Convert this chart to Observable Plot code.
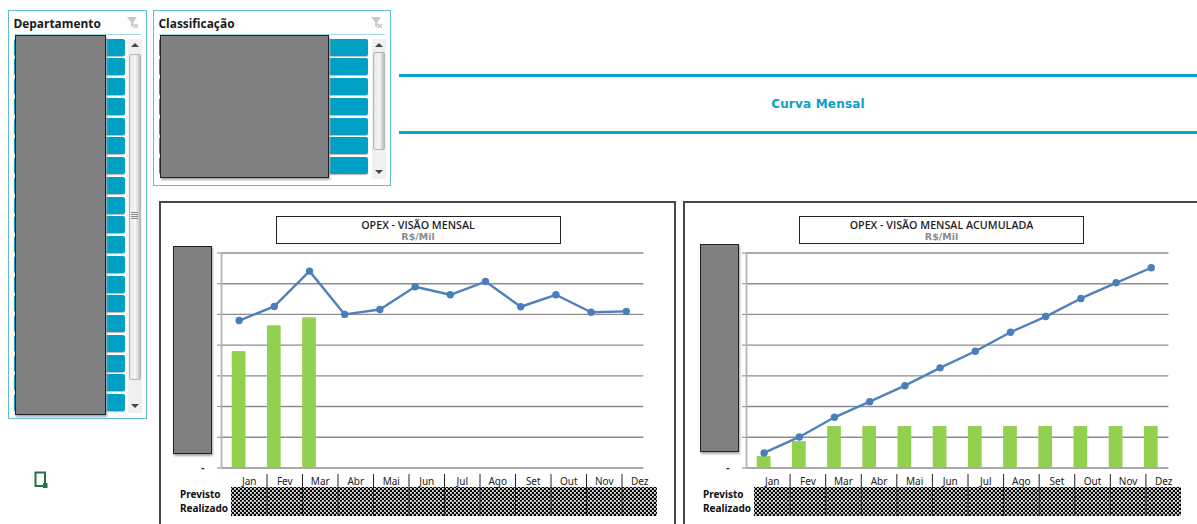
<!DOCTYPE html>
<html lang="pt-BR">
<head>
<meta charset="utf-8">
<script src="https://cdn.jsdelivr.net/npm/d3@7"></script>
<script src="https://cdn.jsdelivr.net/npm/@observablehq/plot@0.6"></script>
<style>
html,body{margin:0;padding:0;background:#fff}
#page{position:relative;width:1197px;height:524px;overflow:hidden;font-family:"DejaVu Sans",sans-serif}
#page div{position:absolute;box-sizing:border-box}
#page svg{position:absolute;display:block;background:transparent}
.slicer{background:#fff;border:1px solid #5fbcd3}
.slicerTitle{font:bold 11.9px "Open Sans","Noto Sans",sans-serif;color:#1a1a1a;white-space:nowrap;line-height:16px}
.rule{background:#a6d9e7;height:1px}
.btn{background:#009fc4;border-radius:2px;box-shadow:0 1px 1px #bbb}
.mask{background:#808080;border:1px solid #222;box-shadow:1px 2px 2px #aaa}
.track{background:#f0f0f0}
.thumb{background:linear-gradient(90deg,#e6e6e6,#f6f6f6 55%,#bdbdbd);border:1px solid #b5b5b5;border-radius:2px}
.up,.down{width:0;height:0;border-left:4px solid transparent;border-right:4px solid transparent}
.up{border-bottom:4px solid #444}.down{border-top:4px solid #444}
.bar{background:#06a5c9;height:3px}
.panel{background:#fff;border:2px solid #484848}
.tbox{background:#fff;border:1px solid #222;text-align:center}
.t1{left:0;right:0;top:1.5px;font:600 10.7px "Open Sans",sans-serif;line-height:15px;color:#1f1f1f;white-space:nowrap}
.t2{left:0;right:0;top:13.5px;font:bold 9.5px "DejaVu Sans",sans-serif;line-height:12px;color:#8a8a8a}
</style>
</head>
<body>
<div id="page"></div>
<script>
const months = ["Jan","Fev","Mar","Abr","Mai","Jun","Jul","Ago","Set","Out","Nov","Dez"];
const tableRows = ["Previsto","Realizado"];
const gridLevels = [0,1,2,3,4,5,6,7];

// Visão mensal
const monthlyPrevisto = [4.80,5.26,6.41,5.00,5.16,5.90,5.64,6.07,5.25,5.64,5.07,5.10];
const monthlyRealizadoMonths = ["Jan","Fev","Mar"];
const monthlyRealizado = [3.79,4.63,4.89];

// Visão mensal acumulada
const cumulativePrevisto = [0.49,1.01,1.65,2.16,2.68,3.26,3.80,4.42,4.93,5.52,6.03,6.52];
const cumulativeRealizado = [0.37,0.86,1.35,1.35,1.35,1.35,1.35,1.35,1.35,1.35,1.35,1.35];

const slicerDepartamentoItems = 19;
const slicerClassificacaoItems = 7;

const page = document.getElementById("page");
function box(cls,l,t,w,h,parent){
  const d=document.createElement("div");d.className=cls;
  d.style.left=l+"px";d.style.top=t+"px";
  if(w!=null)d.style.width=w+"px";
  if(h!=null)d.style.height=h+"px";
  (parent||page).appendChild(d);return d;
}
function funnel(l,t){
  const s=d3.create("svg").attr("width",14).attr("height",14).attr("viewBox","0 0 14 14")
    .style("left",l+"px").style("top",t+"px");
  s.append("path").attr("d","M1 1H11L7.5 6V12L5 10V6Z").attr("fill","#c9c9c9");
  s.append("path").attr("d","M8 8L12 12M12 8L8 12").attr("stroke","#d8b8b8").attr("stroke-width",1.2);
  page.appendChild(s.node());
}
function slicer(opt){
  box("slicer",opt.x,opt.y,opt.w,opt.h);
  const t=box("slicerTitle",opt.x+5.5,15);t.textContent=opt.title;
  funnel(opt.x+opt.w-21,15.5);
  box("rule",opt.x+6,34,opt.w-12,1);
  for(let i=0;i<opt.n;i++) box("btn",opt.x+6,38.7+i*19.75,opt.btnW,17);
  const sx=opt.x+opt.w-19;
  box("track",sx,38.5,14,opt.trackH);
  box("up",sx+3,43);
  box("thumb",sx+1,opt.thumbT,12,opt.thumbH);
  box("down",sx+3,opt.trackH+38.5-9);
  box("mask",opt.x+6.5,35,opt.maskW,opt.maskH);
}
slicer({x:8,y:10,w:139,h:409,title:"Departamento",n:slicerDepartamentoItems,btnW:111,trackH:374,thumbT:54,thumbH:326,maskW:91.5,maskH:380});
const grip=box("",130.5,212,7,8);grip.style.background="repeating-linear-gradient(#888 0 1px,transparent 1px 2px)";
slicer({x:153,y:10,w:238,h:176,title:"Classificação",n:slicerClassificacaoItems,btnW:209,trackH:140,thumbT:52,thumbH:98,maskW:169.5,maskH:143});

box("bar",399,74);box("bar",399,130.5);
page.querySelectorAll(".bar").forEach(b=>b.style.right="0");
const head=box("",700,95.5);head.style.cssText+=";width:236px;text-align:center;font:bold 12px 'DejaVu Sans',sans-serif;color:#0b9fc4;line-height:17px;letter-spacing:.2px";
head.textContent="Curva Mensal";

// Excel icon
const icon=d3.create("svg").attr("width",16).attr("height",20).style("left","33px").style("top","470px");
icon.append("path").attr("d","M2.5 2.5H12V16H2.5Z").attr("fill","none").attr("stroke","#217346").attr("stroke-width",2);
icon.append("path").attr("d","M10 13H14.5V18H10Z").attr("fill","#217346");
page.appendChild(icon.node());

function chartPlot({axisLeft,line,bars,barMonths,panelX,panelW,title,titleX,titleW,maskX,maskT,tableLeft,tableW,id}){
  box("panel",panelX,201,panelW,340);
  const tb=box("tbox",titleX,215.5,titleW,28.5);
  const a=box("t1",0,0,null,null,tb);a.style.left="0";a.style.right="0";a.style.top="1.5px";a.textContent=title;
  const b=box("t2",0,0,null,null,tb);b.style.left="0";b.style.right="0";b.style.top="14px";b.textContent="R$/Mil";

  const mL=40;
  const points=months.map((m,i)=>({m,v:line[i]}));
  const main=Plot.plot({
    width:mL+422.4+2, height:233, marginLeft:mL, marginRight:2, marginTop:12.5, marginBottom:5.5,
    style:{background:"transparent",overflow:"visible"},
    x:{domain:months,paddingInner:0.61,paddingOuter:0.305,round:false,axis:null},
    y:{domain:[0,7],axis:null},
    marks:[
      Plot.ruleY(gridLevels,{stroke:"#8c8c8c",strokeWidth:1.4,strokeOpacity:1}),
      Plot.axisY(gridLevels,{anchor:"left",label:null,tickSize:4,tickPadding:13,stroke:"#999",strokeWidth:1.2,
        tickFormat:d=>d===0?"-":"",fontSize:10,fontWeight:"bold",fill:"#222"}),
      Plot.ruleX([months[0]],{dx:-17.6,stroke:"#b4b4b4",strokeWidth:1.8}),
      Plot.barY(barMonths.map((m,i)=>({m,v:bars[i]})),{x:"m",y:"v",fill:"#92d050"}),
      Plot.line(points,{x:"m",y:"v",stroke:"#4f81bd",strokeWidth:2.4}),
      Plot.dot(points,{x:"m",y:"v",r:3.7,fill:"#4a7ebb"})
    ]
  });
  main.style.left=(axisLeft-mL)+"px";main.style.top="240px";
  page.appendChild(main);

  box("mask",maskX,maskT,39,208);

  const cells=tableRows.flatMap(r=>months.map(m=>({r,m})));
  const tL=55;
  const step=tableW/12;
  const defs=()=>{
    const d=d3.create("svg:defs");
    const p=d.append("pattern").attr("id",id).attr("width",4).attr("height",4).attr("patternUnits","userSpaceOnUse");
    p.append("rect").attr("width",4).attr("height",4).attr("fill","#000");
    p.append("rect").attr("width",1.8).attr("height",1.8).attr("fill","#eee");
    p.append("rect").attr("x",2).attr("y",2).attr("width",1.8).attr("height",1.8).attr("fill","#eee");
    return d.node();
  };
  const table=Plot.plot({
    width:tL+tableW+2, height:44, marginLeft:tL, marginRight:2, marginTop:13, marginBottom:2,
    style:{background:"transparent",overflow:"visible"},
    x:{domain:months,padding:0,round:false,axis:null},
    y:{domain:tableRows,padding:0,round:false,axis:null},
    marks:[
      defs,
      Plot.cell(cells,{x:"m",y:"r",fill:`url(#${id})`}),
      Plot.ruleX(months.slice(1),{dx:-step/2,insetTop:-13,stroke:"#222",strokeWidth:1}),
      Plot.axisX({anchor:"top",label:null,tickSize:0,tickPadding:2.5,fontSize:10,fill:"#222",
        style:{fontFamily:"'Liberation Sans',sans-serif"}}),
      Plot.axisY({anchor:"left",label:null,tickSize:0,tickPadding:51.5,textAnchor:"start",fontSize:10,fontWeight:"bold",fill:"#111",
        style:{fontFamily:"'Liberation Sans',sans-serif",letterSpacing:".45px"}})
    ]
  });
  table.style.left=(tableLeft-tL)+"px";table.style.top="473.5px";
  page.appendChild(table);
}

chartPlot({axisLeft:221,line:monthlyPrevisto,bars:monthlyRealizado,barMonths:monthlyRealizadoMonths,id:"chkA",
  panelX:159,panelW:517,title:"OPEX - VISÃO MENSAL",titleX:275.5,titleW:285,maskX:173,maskT:245.5,tableLeft:231,tableW:426});
chartPlot({axisLeft:745.8,line:cumulativePrevisto,bars:cumulativeRealizado,barMonths:months,id:"chkB",
  panelX:683,panelW:530,title:"OPEX - VISÃO MENSAL ACUMULADA",titleX:799,titleW:285,maskX:700.3,maskT:243.5,tableLeft:754,tableW:427});
</script>
</body>
</html>
